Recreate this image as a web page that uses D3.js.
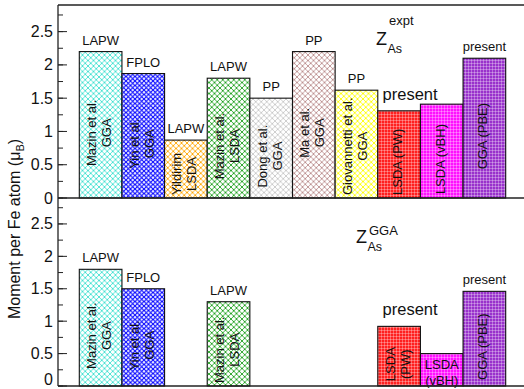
<!DOCTYPE html>
<html>
<head>
<meta charset="utf-8">
<script src="https://cdn.jsdelivr.net/npm/d3@7"></script>
<style>
  html, body { margin: 0; padding: 0; background: #fff; }
  svg { display: block; font-family: "Liberation Sans", Arial, sans-serif; }
</style>
</head>
<body>
<svg id="chart" width="524" height="389"></svg>
<script>
// Calculations of the Fe moment, one bar per calculation
const categories = ["mazinGGA", "yinGGA", "yildirimLSDA", "mazinLSDA", "dongGGA",
                    "maGGA", "giovannettiGGA", "lsdaPW", "lsdaVBH", "ggaPBE"];
// moments computed at the experimental As height
const exptValues = [2.2, 1.87, 0.87, 1.8, 1.5, 2.2, 1.62, 1.31, 1.41, 2.1];
// moments computed at the GGA-relaxed As height (null = not reported)
const ggaValues = [1.8, 1.5, null, 1.3, null, null, null, 0.92, 0.5, 1.46];
// method written above each bar
const exptMethods = ["LAPW", "FPLO", "LAPW", "LAPW", "PP", "PP", "PP", "present", "", "present"];
const ggaMethods = ["LAPW", "FPLO", "", "LAPW", "", "", "", "present", "", "present"];
// text written inside each bar, one entry per line
const exptNames = [["Mazin et al.", "GGA"], ["Yin et al.", "GGA"], ["Yildirim", "LSDA"],
                   ["Mazin et al.", "LSDA"], ["Dong et al.", "GGA"], ["Ma et al.", "GGA"],
                   ["Giovannetti et al.", "GGA"], ["LSDA (PW)"], ["LSDA (vBH)"], ["GGA (PBE)"]];
const ggaNames = [["Mazin et al.", "GGA"], ["Yin et al.", "GGA"], [], ["Mazin et al.", "LSDA"],
                  [], [], [], ["LSDA", "(PW)"], ["LSDA", "(vBH)"], ["GGA (PBE)"]];
const yTickValues = [0, 0.5, 1, 1.5, 2, 2.5];
const yMinorTickValues = d3.range(0, 2.9, 0.25);
const yDomain = [0, 2.9];

const colors = ["#40e0d0", "#0000ff", "#ffa500", "#1fa01f", "#c8c8c8",
                "#bc8f8f", "#ffff00", "#ff2020", "#ff10ff", "#9932cc"];
const hatchSize = [5.5, 4.5, 5.5, 5.5, 5.5, 5.5, 5.5, 0, 0, 0];

const svg = d3.select("#chart");
const axisX = 58, rightX = 530;

const x = d3.scaleBand().domain(categories).range([79.3, 505.7]).padding(0);
const panels = [
  { key: "expt", values: exptValues, methods: exptMethods, names: exptNames,
    y: d3.scaleLinear().domain(yDomain).range([198, 5]), sup: "expt",
    zPos: [376, 45] },
  { key: "gga", values: ggaValues, methods: ggaMethods, names: ggaNames,
    y: d3.scaleLinear().domain(yDomain).range([386, 198]), sup: "GGA",
    zPos: [356, 243] }
];

// fill patterns
const defs = svg.append("defs");
colors.forEach((c, i) => {
  const s = hatchSize[i];
  if (s > 0) {
    const p = defs.append("pattern").attr("id", "pat" + i)
      .attr("patternUnits", "userSpaceOnUse").attr("width", s).attr("height", s);
    p.append("rect").attr("width", s).attr("height", s).attr("fill", "#fff");
    p.append("path")
      .attr("d", `M${-1},${-1}L${s + 1},${s + 1}M${s + 1},${-1}L${-1},${s + 1}`)
      .attr("stroke", c).attr("stroke-width", i === 1 ? 1.1 : 0.9).attr("fill", "none");
  } else {
    const p = defs.append("pattern").attr("id", "pat" + i)
      .attr("patternUnits", "userSpaceOnUse").attr("width", 3).attr("height", 3);
    p.append("rect").attr("width", 3).attr("height", 3).attr("fill", c);
    p.append("path").attr("d", "M0,0.5H3M0.5,0V3")
      .attr("stroke", "#fff").attr("stroke-opacity", 0.3).attr("stroke-width", 1);
  }
});

panels.forEach(panel => {
  const y = panel.y;
  const base = y(0);
  const g = svg.append("g").attr("class", "panel-" + panel.key);
  const rows = categories.map((c, i) => ({ c, i, v: panel.values[i],
    method: panel.methods[i], name: panel.names[i] })).filter(d => d.v != null);

  g.selectAll("rect.bar").data(rows).join("rect").attr("class", "bar")
    .attr("x", d => x(d.c)).attr("width", x.bandwidth())
    .attr("y", d => y(d.v)).attr("height", d => base - y(d.v))
    .attr("fill", d => `url(#pat${d.i})`)
    .attr("stroke", "#111").attr("stroke-width", 1.1);

  // method labels above the bars
  g.selectAll("text.method").data(rows.filter(d => d.method)).join("text")
    .attr("class", "method")
    .attr("x", d => x(d.c) + x.bandwidth() / 2 + (d.i === 7 ? 11 : 0))
    .attr("y", d => y(d.v) - (d.i === 7 ? 11 : 7))
    .attr("text-anchor", "middle")
    .attr("font-size", d => d.i === 7 ? 16.5 : 13)
    .attr("fill", "#111")
    .text(d => d.method);

  // names inside the bars
  rows.forEach(d => {
    if (!d.name.length) return;
    const cx = x(d.c) + x.bandwidth() / 2;
    const horizontal = panel.key === "gga" && d.i === 8;
    const t = g.append("text").attr("font-size", 13).attr("fill", "#111")
      .attr("text-anchor", "middle");
    if (horizontal) {
      d.name.forEach((line, k) => {
        t.append("tspan").attr("x", cx).attr("y", base - 17 + k * 16).text(line);
      });
      return;
    }
    const n = d.name.length;
    d.name.forEach((line, k) => {
      t.append("tspan").attr("x", 0).attr("y", (k - (n - 1) / 2) * 15 + 4.5).text(line);
    });
    let maxLen = 0;
    t.selectAll("tspan").each(function () { maxLen = Math.max(maxLen, this.getComputedTextLength()); });
    const cy = Math.min(y(d.v / 2) + 8, base - maxLen / 2 - 3);
    t.attr("transform", `translate(${cx - 1.5},${cy}) rotate(-90)`);
  });

  // Z label with super- and subscript
  const z = g.append("g").attr("transform", `translate(${panel.zPos[0]},${panel.zPos[1]})`)
    .attr("fill", "#111");
  z.append("text").attr("font-size", 18).text("Z");
  z.append("text").attr("x", 11.5).attr("y", 8).attr("font-size", 12.5).text("As");
  z.append("text").attr("x", 13).attr("y", panel.key === "expt" ? -20 : -8)
    .attr("font-size", 13).text(panel.sup);

  // y axis ticks (inward) and labels
  g.selectAll("line.minor").data(yMinorTickValues).join("line")
    .attr("x1", axisX).attr("x2", axisX + 5)
    .attr("y1", d => y(d)).attr("y2", d => y(d))
    .attr("stroke", "#222").attr("stroke-width", 1);
  g.selectAll("line.major").data(yTickValues).join("line")
    .attr("x1", axisX).attr("x2", axisX + 9)
    .attr("y1", d => y(d)).attr("y2", d => y(d))
    .attr("stroke", "#222").attr("stroke-width", 1);
  g.selectAll("text.tick").data(yTickValues).join("text").attr("class", "tick")
    .attr("x", axisX - 5).attr("y", d => Math.min(y(d) + 5.5, 384.5))
    .attr("text-anchor", "end").attr("font-size", 16).attr("fill", "#111")
    .text(d => d3.format("")(d));

  // panel baseline
  g.append("line").attr("x1", axisX).attr("x2", rightX)
    .attr("y1", base).attr("y2", base).attr("stroke", "#222").attr("stroke-width", 1.3);
});

// frame: top edge and left axis
svg.append("line").attr("x1", axisX).attr("x2", rightX).attr("y1", 5).attr("y2", 5)
  .attr("stroke", "#222").attr("stroke-width", 1.3);
svg.append("line").attr("x1", axisX).attr("x2", axisX).attr("y1", 5).attr("y2", 386)
  .attr("stroke", "#222").attr("stroke-width", 1.3);

// y axis title
const title = svg.append("text").attr("transform", "translate(20,229) rotate(-90)")
  .attr("text-anchor", "middle").attr("font-size", 16).attr("fill", "#111");
title.append("tspan").text("Moment per Fe atom (\u03bc");
title.append("tspan").attr("font-size", 11).attr("dy", 4).text("B");
title.append("tspan").attr("dy", -4).text(")");
</script>
</body>
</html>
